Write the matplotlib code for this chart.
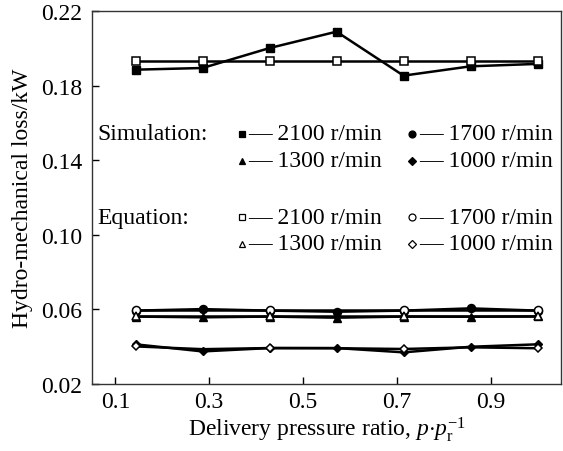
import matplotlib
matplotlib.use("Agg")
import matplotlib.pyplot as plt
import numpy as np

plt.rcParams['font.family'] = ['Liberation Serif', 'DejaVu Serif']
plt.rcParams['mathtext.fontset'] = 'custom'
plt.rcParams['mathtext.rm'] = 'Liberation Serif'
plt.rcParams['mathtext.it'] = 'Liberation Serif:italic'

# Delivery pressure ratio p/pr
ratio = [1/7, 2/7, 3/7, 4/7, 5/7, 6/7, 1.0]

speeds = ['2100 r/min', '1700 r/min', '1300 r/min', '1000 r/min']

# Hydro-mechanical loss (kW), simulation
sim_2100 = [0.1885, 0.1894, 0.2001, 0.2089, 0.1853, 0.1903, 0.1916]
sim_1700 = [0.0592, 0.0600, 0.0592, 0.0586, 0.0592, 0.0604, 0.0592]
sim_1300 = [0.0560, 0.0556, 0.0560, 0.0554, 0.0560, 0.0559, 0.0561]
sim_1000 = [0.0411, 0.0373, 0.0391, 0.0391, 0.0368, 0.0398, 0.0411]

# Hydro-mechanical loss (kW), equation
eq_2100 = [0.1933, 0.1933, 0.1933, 0.1933, 0.1933, 0.1933, 0.1933]
eq_1700 = [0.0593, 0.0593, 0.0593, 0.0593, 0.0593, 0.0593, 0.0593]
eq_1300 = [0.0562, 0.0562, 0.0562, 0.0562, 0.0562, 0.0562, 0.0562]
eq_1000 = [0.0400, 0.0385, 0.0391, 0.0390, 0.0386, 0.0395, 0.0390]

sim_series = [sim_2100, sim_1700, sim_1300, sim_1000]
eq_series = [eq_2100, eq_1700, eq_1300, eq_1000]
markers = ['s', 'o', '^', 'D']
msizes = [5.5, 5.8, 5.5, 4.0]
key_sizes = [4.8, 5.0, 5.0, 3.6]

fig = plt.figure(figsize=(5.63, 4.52), dpi=100)
ax = fig.add_axes([0.1634, 0.149, 0.8330, 0.8245])

for i, (s, e) in enumerate(zip(sim_series, eq_series)):
    ax.plot(ratio, s, color='black', lw=1.8, marker=markers[i],
            ms=msizes[i], mfc='black', mec='black', zorder=3)
    every = None if i == 0 else [0, 2, 4, 6]
    ax.plot(ratio, e, color='black', lw=1.8, marker=markers[i],
            ms=msizes[i], mfc='white', mec='black', mew=1.1,
            markevery=every, zorder=4)

ax.set_xlim(0.05, 1.05)
ax.set_ylim(0.02, 0.22)
ax.set_xticks([0.1, 0.3, 0.5, 0.7, 0.9])
ax.set_yticks([0.02, 0.06, 0.10, 0.14, 0.18, 0.22])
ax.set_yticklabels(['0.02', '0.06', '0.10', '0.14', '0.18', '0.22'])
ax.tick_params(direction='in', length=5, width=1, labelsize=17,
               top=False, right=False)
ax.tick_params(axis='x', pad=5)
ax.tick_params(axis='y', pad=7)
for sp in ax.spines.values():
    sp.set_linewidth(1.0)
    sp.set_color('#333333')

ax.set_xlabel(r'Delivery pressure ratio, $p{\cdot}p_{\mathrm{r}}^{-1}$',
              fontsize=17, labelpad=2)
ax.set_ylabel('Hydro-mechanical loss/kW', fontsize=17, labelpad=6)

# Key drawn inside the axes
tr = ax.transAxes
groups = [('Simulation:', 0.670, 0.598, 'black'),
          ('Equation:', 0.447, 0.375, 'white')]
cols = [(0.320, 0.332), (0.682, 0.697)]
for title, y1, y2, fc in groups:
    ax.text(0.012, y1, title, transform=tr, fontsize=17, va='center', ha='left')
    rows = [y1, y1, y2, y2]
    for k in range(4):
        mx, tx = cols[k % 2]
        yy = rows[k]
        ax.plot([mx], [yy], transform=tr, marker=markers[k],
                ms=key_sizes[k], mfc=fc, mec='black', mew=0.9,
                ls='none', clip_on=False)
        ax.text(tx, yy, '\u2014 ' + speeds[k], transform=tr, fontsize=17,
                va='center', ha='left')

fig.savefig('out.png', dpi=100)
